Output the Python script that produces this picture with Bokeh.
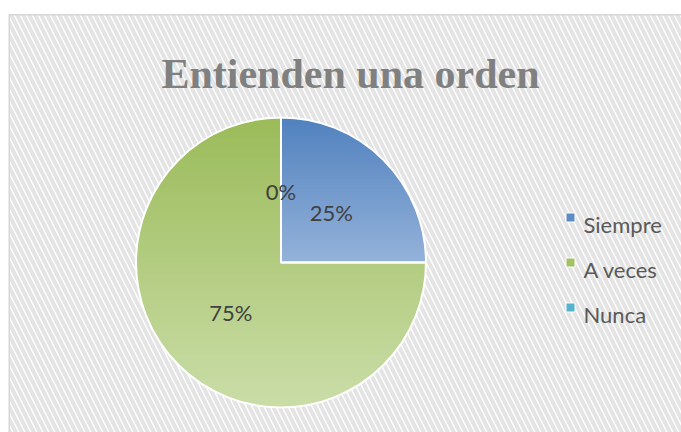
import math
from bokeh.plotting import figure
from bokeh.models import Range1d
from bokeh.core.properties import value
from bokeh.embed import file_html
from bokeh.resources import INLINE

# ---- data ----
title = "Entienden una orden"
categories = ["Siempre", "A veces", "Nunca"]
values = [25, 75, 0]
top_colors = [(80, 129, 190), (155, 187, 89), (75, 172, 198)]
bottom_colors = [(148, 178, 218), (202, 221, 168), (160, 210, 225)]
legend_colors = ["#5f8bc6", "#a3c166", "#55b3cc"]

W, H = 681, 432
p = figure(width=W, height=H, output_backend="svg", toolbar_location=None,
           x_range=Range1d(0, W), y_range=Range1d(0, H),
           x_axis_type=None, y_axis_type=None, min_border=0)
p.outline_line_color = None
p.grid.visible = False
p.background_fill_color = "white"
p.border_fill_color = "white"

def fy(sy):  # screen y -> figure y
    return H - sy

def fx(sx):
    return sx

# background hatch with border
p.quad(left=[fx(8.75)], right=[W + 20], top=[fy(14.25)], bottom=[-20],
       fill_color="white", line_color="#d6d6d6", line_width=1.5,
       hatch_pattern="\\", hatch_color="#e4e4e4", hatch_weight=4, hatch_scale=12)

# pie geometry
cx, cy, R = fx(280.5), fy(262), 145.0
total = float(sum(values))

def clip(poly, y0, y1):
    def clip_edge(pts, keep, inter):
        out = []
        n = len(pts)
        for i in range(n):
            a, b = pts[i], pts[(i + 1) % n]
            ka, kb = keep(a), keep(b)
            if ka:
                out.append(a)
                if not kb:
                    out.append(inter(a, b))
            elif kb:
                out.append(inter(a, b))
        return out
    def inter_y(yv):
        def f(a, b):
            t = (yv - a[1]) / (b[1] - a[1])
            return (a[0] + t * (b[0] - a[0]), yv)
        return f
    pts = clip_edge(poly, lambda q: q[1] >= y0, inter_y(y0))
    if not pts:
        return []
    pts = clip_edge(pts, lambda q: q[1] <= y1, inter_y(y1))
    return pts

xs_all, ys_all, cols_all = [], [], []
cum = 0.0
angles = []
for v, tc, bc in zip(values, top_colors, bottom_colors):
    a0 = math.pi / 2 - 2 * math.pi * cum / total
    cum += v
    a1 = math.pi / 2 - 2 * math.pi * cum / total
    angles.append((a0, a1))
    if v <= 0:
        continue
    n = max(4, int(abs(a1 - a0) / (2 * math.pi) * 360))
    poly = [(cx, cy)] + [(cx + R * math.cos(a0 + (a1 - a0) * k / n),
                          cy + R * math.sin(a0 + (a1 - a0) * k / n)) for k in range(n + 1)]
    ymin = min(q[1] for q in poly)
    ymax = max(q[1] for q in poly)
    step = 1.5
    yb = ymax
    while yb > ymin:
        y1 = yb
        y0 = max(ymin, yb - step)
        pts = clip(poly, y0, y1 + 0.6)
        if len(pts) >= 3:
            t = (ymax - (y0 + y1) / 2) / (ymax - ymin)
            c = tuple(int(round(tc[i] + (bc[i] - tc[i]) * t)) for i in range(3))
            xs_all.append([q[0] for q in pts])
            ys_all.append([q[1] for q in pts])
            cols_all.append("#%02x%02x%02x" % c)
        yb -= step

p.patches(xs=xs_all, ys=ys_all, fill_color=cols_all, line_color=None)

# white separators
for (a0, a1), v in zip(angles, values):
    if v <= 0:
        continue
    p.wedge(x=[cx], y=[cy], radius=[R], start_angle=[a0], end_angle=[a1],
            direction="clock", fill_alpha=0, line_color="white", line_width=2)

# labels
lx, ly, lt = [], [], []
for (a0, a1), v in zip(angles, values):
    m = (a0 + a1) / 2
    lx.append(cx + 0.49 * R * math.cos(m))
    ly.append(cy + 0.49 * R * math.sin(m))
    lt.append("%d%%" % round(100 * v / total))
p.text(x=lx, y=ly, text=lt, text_font=value("Lato"), text_font_size="22px",
       text_color="#404040", text_align="center", text_baseline="middle")

# title
p.text(x=[fx(350)], y=[fy(73)], text=[title], text_font=value("Liberation Serif"),
       text_font_size="42px", text_font_style="bold", text_color="#808080",
       text_align="center", text_baseline="alphabetic")

# legend
sq_y = [fy(217), fy(262), fy(307)]
p.rect(x=[fx(570)] * 3, y=sq_y, width=9, height=9, fill_color=legend_colors,
       line_color="white", line_width=1)
p.text(x=[fx(583)] * 3, y=[fy(224), fy(269), fy(314)], text=categories,
       text_font=value("Lato"), text_font_size="22px", text_color="#595959",
       text_align="left", text_baseline="alphabetic")

open("out.html", "w").write(file_html(p, INLINE))
